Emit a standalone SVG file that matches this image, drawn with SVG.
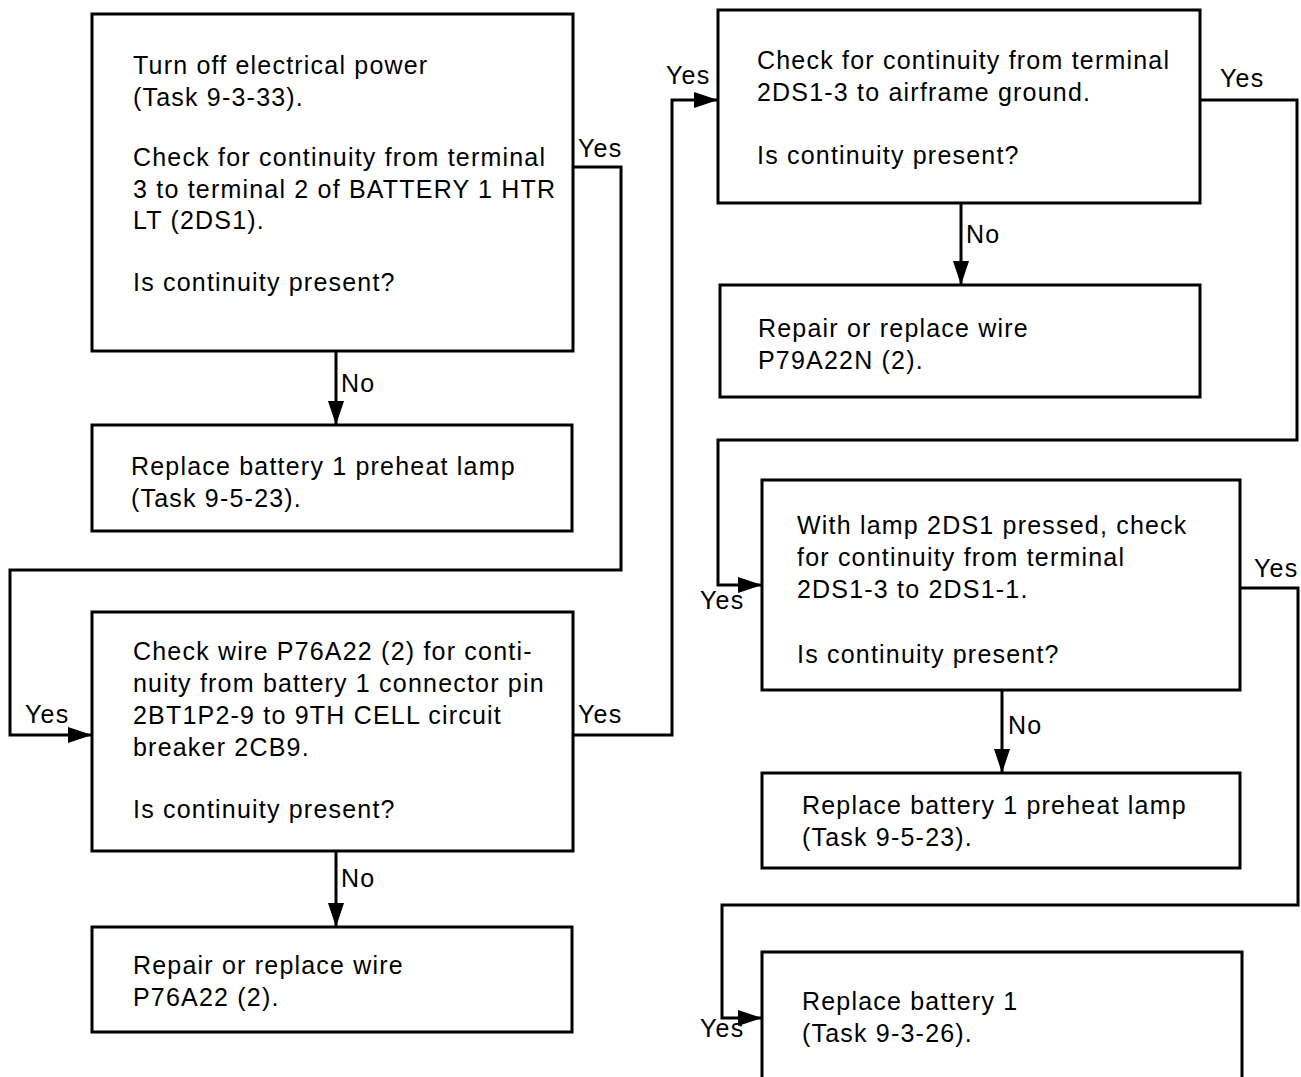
<svg xmlns="http://www.w3.org/2000/svg" width="1301" height="1077" viewBox="0 0 1301 1077">
<style>
.box{fill:#fff;stroke:#000;stroke-width:3}
.c{fill:none;stroke:#000;stroke-width:3}
text{font-family:"Liberation Sans",Arial,sans-serif;font-size:25px;fill:#000;letter-spacing:1.2px}
</style>
<defs>
<marker id="ah" viewBox="0 0 24 16" refX="24" refY="8" markerWidth="24" markerHeight="16" markerUnits="userSpaceOnUse" orient="auto">
<path d="M0,0 L24,8 L0,16 z" fill="#000"/>
</marker>
</defs>
<rect width="1301" height="1077" fill="#fff"/>
<g id="connectors">
<polyline class="c" points="336,351 336,425" marker-end="url(#ah)"/>
<polyline class="c" points="573,167 621,167 621,570 10,570 10,735 92,735" marker-end="url(#ah)"/>
<polyline class="c" points="336,851 336,927" marker-end="url(#ah)"/>
<polyline class="c" points="573,735 672,735 672,100 718,100" marker-end="url(#ah)"/>
<polyline class="c" points="961,203 961,285" marker-end="url(#ah)"/>
<polyline class="c" points="1200,100 1297,100 1297,440 718,440 718,585 762,585" marker-end="url(#ah)"/>
<polyline class="c" points="1002,690 1002,773" marker-end="url(#ah)"/>
<polyline class="c" points="1240,588 1298,588 1298,905 722,905 722,1018 762,1018" marker-end="url(#ah)"/>
<text x="341" y="392">No</text>
<text x="578" y="157">Yes</text>
<text x="25" y="723">Yes</text>
<text x="341" y="887">No</text>
<text x="578" y="723">Yes</text>
<text x="666" y="84">Yes</text>
<text x="966" y="243">No</text>
<text x="1220" y="87">Yes</text>
<text x="700" y="609">Yes</text>
<text x="1254" y="577">Yes</text>
<text x="1008" y="734">No</text>
<text x="700" y="1037">Yes</text>
</g>
<g id="n1">
<rect class="box" x="92" y="14" width="481" height="337"/>
<text x="133" y="74">Turn off electrical power</text>
<text x="133" y="106">(Task 9-3-33).</text>
<text x="133" y="166">Check for continuity from terminal</text>
<text x="133" y="198">3 to terminal 2 of BATTERY 1 HTR</text>
<text x="133" y="229">LT (2DS1).</text>
<text x="133" y="291">Is continuity present?</text>
</g>
<g id="n2">
<rect class="box" x="92" y="425" width="480" height="106"/>
<text x="131" y="475">Replace battery 1 preheat lamp</text>
<text x="131" y="507">(Task 9-5-23).</text>
</g>
<g id="n3">
<rect class="box" x="92" y="612" width="481" height="239"/>
<text x="133" y="660">Check wire P76A22 (2) for conti-</text>
<text x="133" y="692">nuity from battery 1 connector pin</text>
<text x="133" y="724">2BT1P2-9 to 9TH CELL circuit</text>
<text x="133" y="756">breaker 2CB9.</text>
<text x="133" y="818">Is continuity present?</text>
</g>
<g id="n4">
<rect class="box" x="92" y="927" width="480" height="105"/>
<text x="133" y="974">Repair or replace wire</text>
<text x="133" y="1006">P76A22 (2).</text>
</g>
<g id="n5">
<rect class="box" x="718" y="10" width="482" height="193"/>
<text x="757" y="69">Check for continuity from terminal</text>
<text x="757" y="101">2DS1-3 to airframe ground.</text>
<text x="757" y="164">Is continuity present?</text>
</g>
<g id="n6">
<rect class="box" x="720" y="285" width="480" height="112"/>
<text x="758" y="337">Repair or replace wire</text>
<text x="758" y="369">P79A22N (2).</text>
</g>
<g id="n7">
<rect class="box" x="762" y="480" width="478" height="210"/>
<text x="797" y="534">With lamp 2DS1 pressed, check</text>
<text x="797" y="566">for continuity from terminal</text>
<text x="797" y="598">2DS1-3 to 2DS1-1.</text>
<text x="797" y="663">Is continuity present?</text>
</g>
<g id="n8">
<rect class="box" x="762" y="773" width="478" height="95"/>
<text x="802" y="814">Replace battery 1 preheat lamp</text>
<text x="802" y="846">(Task 9-5-23).</text>
</g>
<g id="n9">
<rect class="box" x="762" y="952" width="480" height="140"/>
<text x="802" y="1010">Replace battery 1</text>
<text x="802" y="1042">(Task 9-3-26).</text>
</g>
</svg>
